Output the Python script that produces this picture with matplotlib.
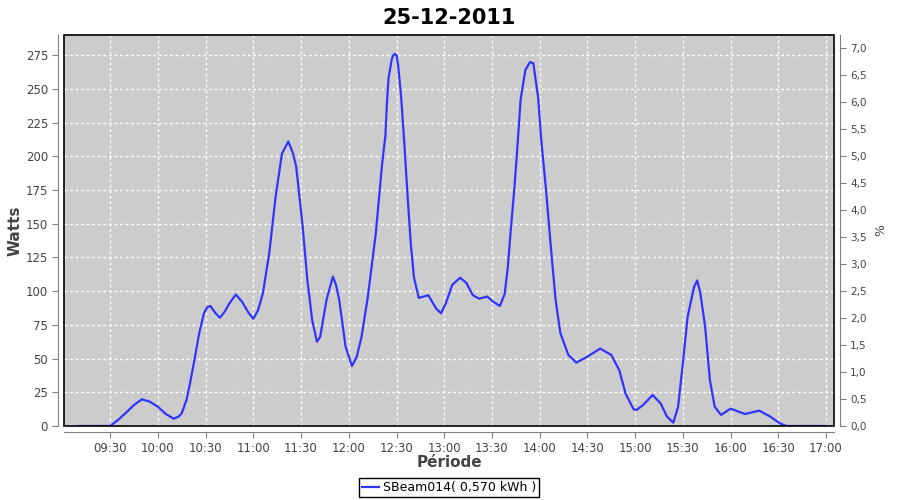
import pandas as pd
import matplotlib
matplotlib.use("Agg")
import matplotlib.pyplot as plt
import matplotlib.dates as mdates
from matplotlib.patches import Rectangle
from matplotlib.ticker import MultipleLocator, FuncFormatter

# Production relevée le 25-12-2011
heures = ["09:10", "09:20", "09:30", "09:35", "09:40", "09:45", "09:50", "09:55",
          "10:00", "10:05", "10:10", "10:13", "10:15", "10:18", "10:20", "10:23",
          "10:26", "10:29", "10:31", "10:33", "10:36", "10:39", "10:42", "10:45",
          "10:49", "10:53", "10:57", "11:00", "11:03", "11:06", "11:10", "11:14",
          "11:18", "11:22", "11:25", "11:27", "11:31", "11:34", "11:37", "11:40",
          "11:42", "11:46", "11:50", "11:52", "11:54", "11:58", "12:02", "12:05",
          "12:08", "12:12", "12:17", "12:21", "12:23", "12:24", "12:25", "12:27",
          "12:28", "12:29", "12:30", "12:31", "12:33", "12:35", "12:37", "12:39",
          "12:41", "12:44", "12:50", "12:55", "12:58", "13:01", "13:05", "13:10",
          "13:14", "13:18", "13:22", "13:27", "13:31", "13:35", "13:38", "13:40",
          "13:42", "13:44", "13:46", "13:48", "13:51", "13:54", "13:56", "13:59",
          "14:01", "14:04", "14:07", "14:10", "14:13", "14:18", "14:23", "14:30",
          "14:38", "14:45", "14:50", "14:54", "14:59", "15:01", "15:05", "15:11",
          "15:16", "15:20", "15:24", "15:27", "15:30", "15:33", "15:37", "15:39",
          "15:41", "15:44", "15:47", "15:50", "15:54", "16:00", "16:09", "16:18",
          "16:25", "16:31", "16:35", "16:45", "17:00"]
watts = [0, 0, 0, 4.5, 9.9, 15.6, 19.8, 18, 14.3, 8.9, 5.4, 7, 9.4, 19.3, 30.4, 49,
         69, 83.8, 88, 89, 84, 80.3, 84.8, 91, 97.5, 92, 84, 79.5, 86, 98.4, 128, 170,
         202, 211, 202, 192, 148, 108, 78.6, 62.5, 66, 93.5, 110.8, 104.6, 93.5, 58.8, 44.5, 51.4,
         66, 96, 143, 195, 215, 240, 258, 272, 275, 276, 275, 268, 243, 208, 170, 135,
         110, 95, 97, 87, 83.6, 91, 104.6, 110, 106, 97, 94.4, 96, 92, 89, 98, 118,
         148, 175, 207, 242, 264, 270, 269, 244, 212, 175, 133, 93.5, 69, 52.7, 47, 51.4,
         57.4, 52.7, 41.5, 24, 12.4, 12, 15.6, 23, 16.8, 7, 2.5, 14.3, 46.5, 81, 103, 108,
         98.4, 73.7, 34, 14.3, 8.2, 12.9, 8.9, 11.4, 6.9, 2, 0, 0, 0]

titre = "25-12-2011"
legende = "SBeam014( 0,570 kWh )"

temps = pd.to_datetime(["2011-12-25 " + h for h in heures])

fig = plt.figure(figsize=(9, 5), dpi=100)
ax = fig.add_axes([64 / 900, 1 - 426 / 500, 770 / 900, 391 / 500])
ax2 = ax.twinx()

ax.set_facecolor("#cccccc")
ax.plot(temps, watts, color="#3333ff", linewidth=1.6, label=legende)

ax.set_xlim(pd.Timestamp("2011-12-25 09:01"), pd.Timestamp("2011-12-25 17:05"))
ax.set_ylim(0, 290)
ax2.set_ylim(0, 7.25)

ax.xaxis.set_major_locator(mdates.MinuteLocator(byminute=[0, 30]))
ax.xaxis.set_major_formatter(mdates.DateFormatter("%H:%M"))
ax.yaxis.set_major_locator(MultipleLocator(25))
ax2.yaxis.set_major_locator(MultipleLocator(0.5))
ax2.yaxis.set_major_formatter(FuncFormatter(lambda v, p: f"{v:.1f}".replace(".", ",")))

ax.grid(True, color="white", linestyle=(0, (2, 2)), linewidth=1)

# axes décalés à la JFreeChart
for a in (ax, ax2):
    for s in a.spines.values():
        s.set_visible(False)
ax.spines["left"].set_visible(True)
ax.spines["bottom"].set_visible(True)
ax2.spines["right"].set_visible(True)
for s in (ax.spines["left"], ax.spines["bottom"], ax2.spines["right"]):
    s.set_position(("outward", 4))
    s.set_color("#808080")
ax.add_patch(Rectangle((0, 0), 1, 1, transform=ax.transAxes, fill=False,
                       edgecolor="black", linewidth=1.2, clip_on=False, zorder=5))

ax.tick_params(colors="#808080", labelcolor="#444444", labelsize=8.5, length=4)
ax2.tick_params(colors="#808080", labelcolor="#444444", labelsize=7.5, length=4)

ax.set_ylabel("Watts", fontsize=11, fontweight="bold", color="#444444", labelpad=2)
ax2.set_ylabel("%", fontsize=9, color="#444444", rotation=270, labelpad=12)
ax.set_xlabel("Période", fontsize=11, fontweight="bold", color="#444444", labelpad=0)
fig.suptitle(titre, fontsize=15, fontweight="bold", x=0.499, y=0.985)

fig.legend(loc="lower center", bbox_to_anchor=(0.499, 0.006), fancybox=False,
           edgecolor="black", framealpha=1, fontsize=9, handlelength=1.4,
           handletextpad=0.3, borderpad=0.25, borderaxespad=0.0)

fig.savefig("out.png", dpi=100)
